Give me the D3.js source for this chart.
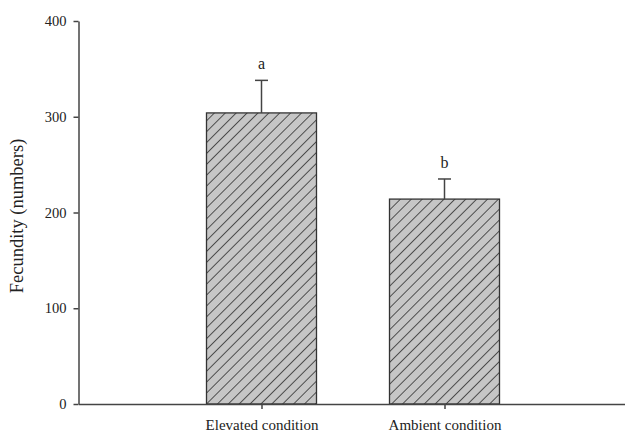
<!DOCTYPE html>
<html><head><meta charset="utf-8">
<script src="https://cdn.jsdelivr.net/npm/d3@7"></script>
<style>body{margin:0;background:#fff}svg{display:block}</style>
</head><body><svg id="c" width="625" height="432"></svg>
<script>
const categories = ["Elevated condition", "Ambient condition"];
const means = [304, 214];
const errors = [34, 21];
const letters = ["a", "b"];
const yTicks = [0, 100, 200, 300, 400];

const svg = d3.select("#c");
const font = "'Liberation Serif', 'Times New Roman', serif";
const x = d3.scaleLinear().domain([0, 3]).range([78.5, 627.5]);
const y = d3.scaleLinear().domain([0, 400]).range([404, 21]);
const barW = 110;

const defs = svg.append("defs");
const sp = 7.7;
const pat = defs.append("pattern").attr("id", "hatch").attr("patternUnits", "userSpaceOnUse")
  .attr("width", sp).attr("height", sp).attr("patternTransform", "rotate(45)");
pat.append("rect").attr("width", sp).attr("height", sp).attr("fill", "#c6c6c6");
pat.append("line").attr("x1", 0).attr("y1", 0).attr("x2", 0).attr("y2", sp)
  .attr("stroke", "#262626").attr("stroke-width", 1.5);

const data = categories.map((c, i) => ({c, i, m: means[i], e: errors[i], l: letters[i]}));

// bars
svg.selectAll("rect.bar").data(data).join("rect").attr("class", "bar")
  .attr("x", d => x(d.i + 1) - barW / 2).attr("width", barW)
  .attr("y", d => y(d.m)).attr("height", d => y(0) - y(d.m))
  .attr("fill", "url(#hatch)").attr("stroke", "#333").attr("stroke-width", 1.3);

// error bars
svg.selectAll("line.err").data(data).join("line").attr("class", "err")
  .attr("x1", d => x(d.i + 1)).attr("x2", d => x(d.i + 1))
  .attr("y1", d => y(d.m)).attr("y2", d => y(d.m + d.e))
  .attr("stroke", "#444").attr("stroke-width", 1.5);
svg.selectAll("line.cap").data(data).join("line").attr("class", "cap")
  .attr("x1", d => x(d.i + 1) - 6.5).attr("x2", d => x(d.i + 1) + 6.5)
  .attr("y1", d => y(d.m + d.e)).attr("y2", d => y(d.m + d.e))
  .attr("stroke", "#444").attr("stroke-width", 1.5);

// letters
svg.selectAll("text.let").data(data).join("text").attr("class", "let")
  .attr("x", d => x(d.i + 1)).attr("y", d => y(d.m + d.e) - 11)
  .attr("text-anchor", "middle").attr("font-family", font).attr("font-size", 16)
  .attr("fill", "#222").text(d => d.l);

// y axis
const ya = svg.append("g").attr("transform", `translate(${x(0)},0)`)
  .call(d3.axisLeft(y).tickValues(yTicks).tickSize(5).tickPadding(7).tickSizeOuter(0));
ya.select(".domain").attr("stroke", "#444").attr("stroke-width", 1.5);
ya.selectAll(".tick line").attr("stroke", "#444").attr("stroke-width", 1.5);
ya.selectAll("text").attr("font-family", font).attr("font-size", 14.5).attr("fill", "#222");

// x axis
const xa = svg.append("g").attr("transform", `translate(0,${y(0)})`)
  .call(d3.axisBottom(x).tickValues([1, 2]).tickFormat(v => categories[v - 1])
    .tickSize(5).tickPadding(10).tickSizeOuter(0));
xa.select(".domain").attr("stroke", "#444").attr("stroke-width", 1.5);
xa.selectAll(".tick line").attr("stroke", "#444").attr("stroke-width", 1.5);
xa.selectAll("text").attr("font-family", font).attr("font-size", 15).attr("fill", "#222");

// y label
svg.append("text").attr("transform", `translate(23,216) rotate(-90)`)
  .attr("text-anchor", "middle").attr("font-family", font).attr("font-size", 18.5)
  .attr("fill", "#222").text("Fecundity (numbers)");
</script></body></html>
